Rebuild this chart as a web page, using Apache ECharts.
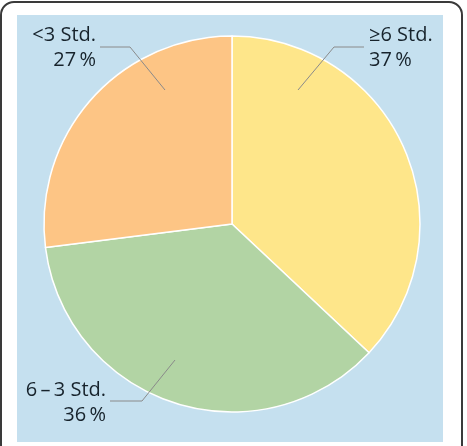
<!DOCTYPE html>
<html>
<head>
<meta charset="utf-8">
<script src="https://cdn.jsdelivr.net/npm/echarts@6/dist/echarts.min.js"></script>
<style>
  html, body { margin: 0; padding: 0; background: #fff; overflow: hidden; }
  .frame {
    position: absolute; left: 0; top: 1px; width: 463px; height: 470px;
    border: 2px solid #3a3a3a; border-radius: 14px; box-sizing: border-box;
  }
  .panel {
    position: absolute; left: 17px; top: 15px; width: 426px; height: 427px;
    background: #c5e0ef;
  }
  #chart { position: absolute; left: 0; top: 0; width: 467px; height: 446px; }
</style>
</head>
<body>
<div class="frame"></div>
<div class="panel"></div>
<div id="chart"></div>
<script>
// 数据
const categories = ['≥6 Std.', '6\u2009–\u20093 Std.', '<3 Std.']
const shares = [37, 36, 27]
const colors = ['#fee68a', '#b2d4a4', '#fdc585']

// 标注位置（文字锚点 + 引线拐点 + 引线起点）
const callouts = [
  { x: 369, y: 48, align: 'left', bend: [334, 47], start: [298, 90] },
  { x: 106, y: 403, align: 'right', bend: [142, 401], start: [175, 360] },
  { x: 96, y: 48, align: 'right', bend: [130, 47], start: [165, 90] }
]

const pieData = categories.map((name, i) => ({
  name: name,
  value: shares[i],
  itemStyle: { color: colors[i] }
}))

const chart = echarts.init(document.getElementById('chart'))

const options = {
  backgroundColor: 'transparent',
  animation: false,
  series: [
    // 饼图本体
    {
      type: 'pie',
      z: 2,
      center: [232, 224],
      radius: 188,
      startAngle: 90,
      clockwise: true,
      silent: true,
      data: pieData,
      itemStyle: {
        borderColor: '#ffffff',
        borderWidth: 1.5
      },
      label: { show: false },
      labelLine: { show: false }
    },
    // 透明的一层，只画标签和引线（保证引线在扇形上方）
    {
      type: 'pie',
      z: 3,
      center: [232, 224],
      radius: 188,
      startAngle: 90,
      clockwise: true,
      silent: true,
      avoidLabelOverlap: false,
      data: pieData.map((d) => ({ name: d.name, value: d.value })),
      itemStyle: { color: 'rgba(0,0,0,0)', borderWidth: 0 },
      label: {
        show: true,
        position: 'outside',
        formatter: (p) => p.name + '\n' + p.value + '\u2009%',
        fontFamily: 'Open Sans',
        fontSize: 20,
        lineHeight: 25,
        color: '#17232c'
      },
      labelLine: {
        show: true,
        length: 10,
        length2: 10,
        lineStyle: { color: '#8a8a8a', width: 1 }
      },
      labelLayout: function (params) {
        const c = callouts[params.dataIndex]
        return {
          x: c.x,
          y: c.y,
          align: c.align,
          verticalAlign: 'middle',
          labelLinePoints: [
            c.start,
            c.bend,
            [c.align === 'left' ? c.x - 5 : c.x + 4, c.bend[1]]
          ]
        }
      }
    }
  ]
}

chart.setOption(options)
</script>
</body>
</html>
